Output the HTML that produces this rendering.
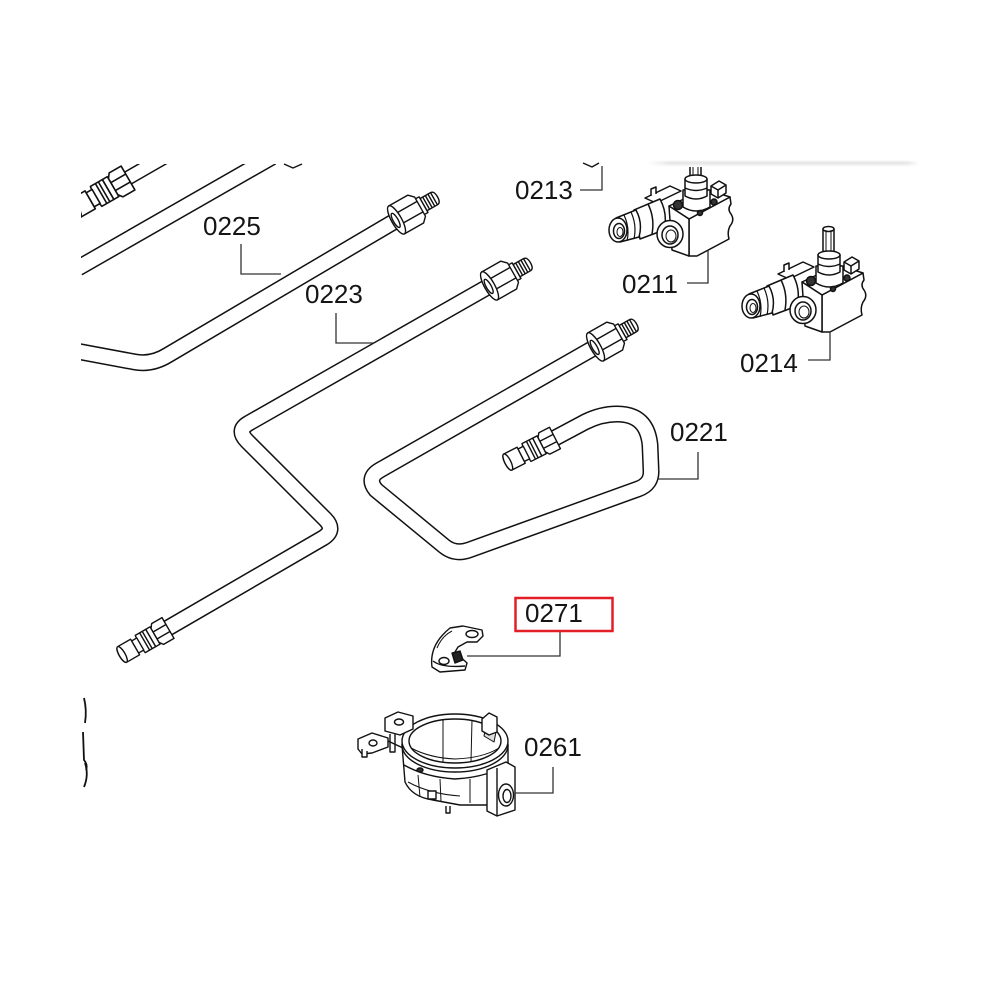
<!DOCTYPE html>
<html>
<head>
<meta charset="utf-8">
<style>
  html,body{margin:0;padding:0;background:#fff;}
  svg{display:block;}
  text{font-family:"Liberation Sans",Arial,sans-serif;font-size:26px;fill:#151515;}
</style>
</head>
<body>
<svg width="1000" height="1000" viewBox="0 0 1000 1000" xmlns="http://www.w3.org/2000/svg">
<defs>
  <linearGradient id="shd" x1="0" y1="0" x2="0" y2="1">
    <stop offset="0" stop-color="#ffffff"/>
    <stop offset="0.4" stop-color="#e4e4e4"/>
    <stop offset="1" stop-color="#ffffff"/>
  </linearGradient>
  <linearGradient id="shdh" x1="0" y1="0" x2="1" y2="0">
    <stop offset="0" stop-color="#fff" stop-opacity="1"/>
    <stop offset="0.08" stop-color="#fff" stop-opacity="0"/>
    <stop offset="0.95" stop-color="#fff" stop-opacity="0"/>
    <stop offset="1" stop-color="#fff" stop-opacity="1"/>
  </linearGradient>
  <!-- nut + threaded end fitting; origin = nut centre, +x toward tip -->
  <g id="nutfit" fill="#fff" stroke="#111" stroke-width="1.4" stroke-linejoin="round">
    <path d="M15 -7 L31 -7 Q35 -7 35 0 Q35 7 31 7 L15 7 Z"/>
    <path d="M19 -7 V7 M22 -7 V7 M25 -7 V7 M28 -7 V7 M31 -7 V7" fill="none"/>
    <path d="M14 -9 L19 -9 L19 9 L14 9 Z"/>
    <path d="M-12 -16 L10 -16 L15 -11 L15 11 L10 16 L-12 16 Z"/>
    <path d="M-9 -6 H15 M-9 6 H15" fill="none"/>
    <ellipse cx="-12" cy="0" rx="5" ry="16"/>
    <ellipse cx="-13" cy="0" rx="2.5" ry="8"/>
  </g>
  <!-- male fitting; origin = tube end, +x outward -->
  <g id="malefit" fill="#fff" stroke="#111" stroke-width="1.4" stroke-linejoin="round">
    <path d="M0 -12 L12 -12 L15 -8 L15 8 L12 12 L0 12 Z"/>
    <path d="M0 -4 H15 M0 4 H15" fill="none"/>
    <rect x="15" y="-10" width="5" height="20"/>
    <path d="M20 -10 L32 -10 Q34 0 32 10 L20 10 Z"/>
    <path d="M24 -10 V10 M27 -10 V10" fill="none"/>
    <rect x="32" y="-7" width="6" height="14"/>
    <path d="M38 -9 L52 -9 Q56 -9 56 0 Q56 9 52 9 L38 9 Z"/>
    <ellipse cx="53" cy="0" rx="3" ry="9"/>
  </g>
  <!-- valve (drawn at 0211 position) -->
  <g id="valve" fill="#fff" stroke="#111" stroke-width="1.5" stroke-linejoin="round">
    <!-- right face -->
    <path d="M689 219 L730 197 L731 204 Q727 209 731 214 Q735 220 730 226 Q727 232 729 239 L697 256 L689 256 Z"/>
    <!-- top face -->
    <path d="M669 206 L705 189 L730 197 L689 219 Z"/>
    <!-- front face -->
    <path d="M669 206 L689 219 L689 256 L672 250 Z"/>
    <!-- shaft -->
    <path d="M690 153 L690 181 L701 181 L701 153 Z"/>
    <ellipse cx="695.5" cy="153" rx="5.5" ry="2.5"/>
    <path d="M693 154 V179 M698 154 V179" fill="none" stroke-width="1"/>
    <!-- collar + base -->
    <path d="M683 190 L683 207 Q696 215 710 207 L710 190 Z"/>
    <path d="M685 179 L685 196 Q696 202 707 196 L707 179 Z"/>
    <ellipse cx="696" cy="179" rx="11" ry="4"/>
    <path d="M685 188 Q696 193 707 188" fill="none"/>
    <!-- top bumps -->
    <path d="M711 186 L719 181 L726 185 L726 193 L718 198 L711 194 Z"/>
    <path d="M711 186 L718 190 L726 185 M718 190 V198" fill="none"/>
    <circle cx="678" cy="205" r="4.5" fill="#333"/>
    <circle cx="714" cy="202" r="3" fill="#333"/>
    <circle cx="700" cy="213" r="2.5" fill="#333"/>
    <!-- bracket -->
    <path d="M645 198 L670 186 L681 191 L656 203 Z"/>
    <path d="M651 196 L651 189 L656 187 L656 194"/>
    <!-- second cylinder -->
    <path d="M634 210 L660 199 Q668 214 664 230 L640 239 Z"/>
    <path d="M648 204 Q655 218 652 234" fill="none"/>
    <!-- inlet nut -->
    <path d="M616 218 L636 210 Q643 223 639 237 L620 242 Z"/>
    <path d="M624 215 Q630 228 627 241 M631 212 Q637 225 634 239" fill="none" stroke-width="1.2"/>
    <!-- inlet end -->
    <ellipse cx="618" cy="230" rx="9" ry="12"/>
    <ellipse cx="619" cy="231" rx="5.5" ry="7.5"/>
    <ellipse cx="620" cy="232" rx="3" ry="4.5" fill="none" stroke-width="1"/>
    <!-- front outlet -->
    <ellipse cx="670" cy="234" rx="13" ry="13.5"/>
    <ellipse cx="670" cy="235" rx="8" ry="9"/>
    <ellipse cx="671" cy="236" rx="5" ry="6" fill="none" stroke-width="1"/>
  </g>
</defs>

<rect width="1000" height="1000" fill="#fff"/>

<!-- ===== tubes ===== -->
<g fill="none" stroke-linejoin="round">
  <path d="M78 268 L272 157" stroke="#111" stroke-width="17"/>
  <path d="M78 268 L272 157" stroke="#fff" stroke-width="14"/>
  <path d="M128 178 L168 155" stroke="#111" stroke-width="15"/>
  <path d="M128 178 L168 155" stroke="#fff" stroke-width="12"/>
  <path d="M76 351 L135 362 Q152 365 168 355 L407 214" stroke="#111" stroke-width="17"/>
  <path d="M76 351 L135 362 Q152 365 168 355 L407 214" stroke="#fff" stroke-width="14"/>
  <path d="M500 280 L249 423 Q236 430 247 441 L325 519 Q336 530 323 538 L168 628" stroke="#111" stroke-width="17"/>
  <path d="M500 280 L249 423 Q236 430 247 441 L325 519 Q336 530 323 538 L168 628" stroke="#fff" stroke-width="14"/>
  <path d="M606 341 L380 470 Q366 478 376 490 L444 546 Q455 555 469 550 L638 489 Q652 484 651 470 L650 445 C648 425 638 414 617 414 C605 414 595 417 585 422 L555 438" stroke="#111" stroke-width="17"/>
  <path d="M606 341 L380 470 Q366 478 376 490 L444 546 Q455 555 469 550 L638 489 Q652 484 651 470 L650 445 C648 425 638 414 617 414 C605 414 595 417 585 422 L555 438" stroke="#fff" stroke-width="14"/>
</g>

<!-- fittings -->
<use href="#nutfit" transform="translate(407 214) rotate(-29.5)"/>
<use href="#nutfit" transform="translate(500 280) rotate(-29.5)"/>
<use href="#nutfit" transform="translate(606 341) rotate(-29.5)"/>
<use href="#malefit" transform="translate(168 628) rotate(150)"/>
<use href="#malefit" transform="translate(555 438) rotate(153)"/>
<use href="#malefit" transform="translate(128 178) rotate(150) scale(1.15)"/>

<!-- valves -->
<use href="#valve"/>
<use href="#valve" transform="translate(133 76)"/>

<!-- clip part 0271 -->
<g fill="#fff" stroke="#111" stroke-width="1.4" stroke-linejoin="round">
  <path d="M432 667 Q429 645 450 628 L463 626 L482 630 L483 636 L477 642 L467 642 L458 647 L455 652 L467 663 L465 670 L440 672 Z"/>
  <path d="M433 661 Q442 668 465 666" fill="none"/>
  <path d="M437 648 Q442 636 452 631" fill="none" stroke-width="1"/>
  <ellipse cx="472" cy="634" rx="6" ry="3.5"/>
  <ellipse cx="444" cy="661" rx="5" ry="3.5"/>
  <path d="M452 653 L460 651 L463 660 L455 663 Z" fill="#222"/>
</g>

<!-- burner 0261 -->
<g fill="#fff" stroke="#111" stroke-width="1.4" stroke-linejoin="round">
  <path d="M402 745 L405 782 Q412 797 433 800 L460 805 L488 805 L488 772 L508 764 L508 745 Z"/>
  <path d="M404 765 Q425 777 455 779 Q490 777 508 763" fill="none"/>
  <path d="M408 782 Q430 794 460 796" fill="none" stroke-width="1"/>
  <path d="M418 775 L420 797 M440 779 L441 801 M470 779 L470 803" fill="none" stroke-width="1"/>
  <!-- right lug -->
  <path d="M487 770 L506 762 L515 767 L515 810 L497 816 L487 811 Z"/>
  <path d="M497 768 L497 816" fill="none"/>
  <ellipse cx="506" cy="795" rx="7.5" ry="11"/>
  <ellipse cx="507" cy="796" rx="4" ry="6.5"/>
  <!-- rim -->
  <ellipse cx="455" cy="745" rx="53" ry="27"/>
  <ellipse cx="455" cy="741" rx="53" ry="27"/>
  <ellipse cx="455" cy="741" rx="46" ry="22"/>
  <path d="M411 748 Q430 758 455 759 Q483 758 499 748" fill="none" stroke-width="1"/>
  <path d="M443 720 L443 762 M472 720 L471 761" fill="none" stroke-width="1"/>
  <path d="M486 726 L496 732 L494 742 L484 736 Z" fill="#ddd" stroke-width="1"/>
  <ellipse cx="420" cy="770" rx="3" ry="2" fill="#333"/>
  <!-- left tabs -->
  <path d="M385 718 L398 712 L413 716 L413 729 L400 735 L385 731 Z"/>
  <ellipse cx="399" cy="722" rx="4.5" ry="3"/>
  <path d="M390 734 L390 752 L395 752 L395 734" />
  <path d="M358 739 L372 733 L388 738 L388 747 L372 753 L362 754 L358 749 Z"/>
  <ellipse cx="373" cy="743" rx="4" ry="3"/>
  <path d="M362 749 L362 757 L367 757 L367 751" />
  <path d="M388 741 L403 748" fill="none"/>
  <!-- top right tab -->
  <path d="M482 719 L489 713 L497 717 L497 732 L489 735 L482 731 Z"/>
  <!-- bottom bits -->
  <rect x="428" y="791" width="8" height="8"/>
  <path d="M446 806 L446 813 L450 813 L450 806" />
</g>

<!-- left edge fragments -->
<g fill="none" stroke="#111" stroke-width="1.8">
  <path d="M84 698 Q87 710 85 723"/>
  <path d="M83 732 L84 760 Q88 765 86 770"/>
  <path d="M85 763 Q89 775 84 787"/>
</g>

<!-- cropping frame -->
<rect x="0" y="0" width="1000" height="164" fill="#fff"/>
<rect x="0" y="0" width="81" height="1000" fill="#fff"/>
<rect x="648" y="160" width="272" height="7" fill="url(#shd)"/>
<rect x="648" y="160" width="272" height="7" fill="url(#shdh)"/>

<!-- small chevrons at top edge -->
<g fill="none" stroke="#111" stroke-width="1.4">
  <path d="M583 163 L592 167 L599 163"/>
  <path d="M284 164 L293 168 L302 164"/>
</g>

<!-- leader lines -->
<g fill="none" stroke="#333" stroke-width="1.3">
  <path d="M241 244 V274 H281"/>
  <path d="M336 313 V343 H373"/>
  <path d="M580 190 H602 V166"/>
  <path d="M687 283 H708 V250"/>
  <path d="M808 360 H830 V332"/>
  <path d="M658 479 H698 V452"/>
  <path d="M560 630 V656 H467"/>
  <path d="M553 767 V793 H515"/>
</g>

<!-- labels -->
<text x="203" y="235">0225</text>
<text x="305" y="303">0223</text>
<text x="515" y="199">0213</text>
<text x="622" y="293">0211</text>
<text x="740" y="372">0214</text>
<text x="670" y="441">0221</text>
<text x="525" y="622">0271</text>
<text x="524" y="756">0261</text>

<rect x="515.5" y="598" width="97" height="33" fill="none" stroke="#e21f26" stroke-width="2.5"/>
</svg>
</body>
</html>
